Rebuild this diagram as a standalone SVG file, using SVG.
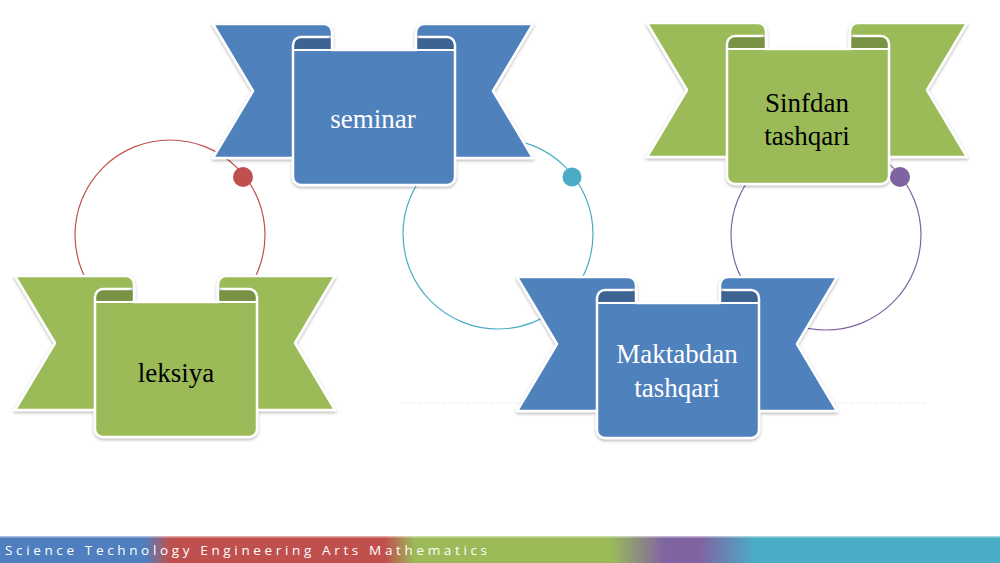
<svg xmlns="http://www.w3.org/2000/svg" xmlns:xlink="http://www.w3.org/1999/xlink" width="1000" height="563" viewBox="0 0 1000 563">
<defs>
<filter id="sh" x="-10%" y="-10%" width="120%" height="125%">
<feDropShadow dx="0" dy="1.5" stdDeviation="1.5" flood-color="#000" flood-opacity="0.3"/>
</filter>
<linearGradient id="bar" x1="0" y1="0" x2="1000" y2="0" gradientUnits="userSpaceOnUse">
<stop offset="0" stop-color="#4f7fbf"/>
<stop offset="0.145" stop-color="#4f7fbf"/>
<stop offset="0.17" stop-color="#c0504d"/>
<stop offset="0.385" stop-color="#c0504d"/>
<stop offset="0.415" stop-color="#9bbb59"/>
<stop offset="0.61" stop-color="#9bbb59"/>
<stop offset="0.665" stop-color="#8064a2"/>
<stop offset="0.70" stop-color="#8064a2"/>
<stop offset="0.755" stop-color="#4bacc6"/>
<stop offset="1" stop-color="#4bacc6"/>
</linearGradient>
<g id="ribbon">
<path class="tail" d="M0,0 H111 A8,8 0 0 1 119,8 V134 H0 L40,67 Z"/>
<path class="tail" d="M320,0 H211 A8,8 0 0 0 203,8 V134 H320 L280,67 Z"/>
<path class="panel" d="M80,21 A8,8 0 0 1 88,13 H119 V26 H203 V13 H234 A8,8 0 0 1 242,21 V153 A8,8 0 0 1 234,161 H88 A8,8 0 0 1 80,153 Z"/>
<path class="cap" d="M81.3,26 V21 A6.7,6.7 0 0 1 88,14.3 H112 A6.5,6.5 0 0 0 117.7,11 V26 Z"/>
<path class="cap" d="M240.7,26 V21 A6.7,6.7 0 0 0 234,14.3 H210 A6.5,6.5 0 0 1 204.3,11 V26 Z"/>
<path class="edge" d="M80,26 H119 M203,26 H242"/>
</g>
</defs>
<style>
.tail,.panel{stroke:#ffffff;stroke-width:2.5;stroke-linejoin:round}
.cap{fill:#000;fill-opacity:0.22;stroke:none}
.edge{fill:none;stroke:#ffffff;stroke-width:2}
.blue{fill:#4f81bd}
.green{fill:#9bbb59}
.rib{filter:url(#sh)}
.lbl{font-family:"Liberation Serif","Times New Roman",serif;font-size:27px;text-anchor:middle}
.w{fill:#ffffff}
.k{fill:#000000}
.ring{fill:none;stroke-width:1.2}
</style>
<rect width="1000" height="563" fill="#ffffff"/>
<line x1="400" y1="403" x2="926" y2="403" stroke="#d9d9d9" stroke-width="1" stroke-dasharray="1,2"/>
<g id="connectors">
<circle class="ring" cx="170" cy="235" r="95" stroke="#c0504d"/>
<circle class="ring" cx="498" cy="234" r="95" stroke="#4bacc6"/>
<circle class="ring" cx="826" cy="235" r="95" stroke="#8064a2"/>
<circle cx="243" cy="177" r="10" fill="#c0504d"/>
<circle cx="572" cy="177" r="9.5" fill="#4bacc6"/>
<circle cx="900" cy="177" r="10" fill="#8064a2"/>
</g>
<g id="n-seminar" transform="translate(213,24)">
<use href="#ribbon" xlink:href="#ribbon" class="blue rib"/>
<text class="lbl w" x="160" y="104">seminar</text>
</g>
<g id="n-leksiya" transform="translate(15,276)">
<use href="#ribbon" xlink:href="#ribbon" class="green rib"/>
<text class="lbl k" x="161" y="106">leksiya</text>
</g>
<g id="n-sinfdan" transform="translate(647,23)">
<use href="#ribbon" xlink:href="#ribbon" class="green rib"/>
<text class="lbl k" x="160" y="89">Sinfdan</text>
<text class="lbl k" x="160" y="122">tashqari</text>
</g>
<g id="n-maktabdan" transform="translate(517,277)">
<use href="#ribbon" xlink:href="#ribbon" class="blue rib"/>
<text class="lbl w" x="160" y="86">Maktabdan</text>
<text class="lbl w" x="160" y="120">tashqari</text>
</g>
<g id="footer">
<rect x="0" y="536" width="1000" height="27" fill="url(#bar)"/>
<rect x="0" y="536" width="1000" height="1.5" fill="#ffffff" fill-opacity="0.5"/>
<text x="5" y="555" font-family="'Open Sans','Liberation Sans',sans-serif" font-size="13.5" fill="#ffffff" textLength="482" lengthAdjust="spacing">Science Technology Engineering Arts Mathematics</text>
</g>
</svg>
